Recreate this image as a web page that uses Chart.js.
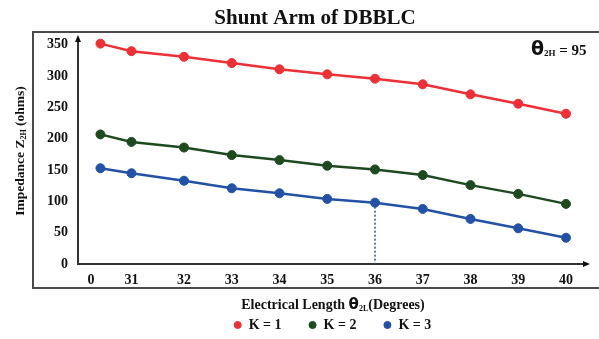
<!DOCTYPE html>
<html>
<head>
<meta charset="utf-8">
<script src="https://cdn.jsdelivr.net/npm/chart.js@4.4.0/dist/chart.umd.min.js"></script>
<style>
    html, body { margin: 0; padding: 0; background: #fff; }
    #wrap { width: 599px; height: 339px; }
</style>
</head>
<body>
<div id="wrap"><canvas id="chartShunt"></canvas></div>
<script>
// electrical length (degrees) and impedance values for each K
const lengths = [30.25, 30.9, 32, 33, 34, 35, 36, 37, 38, 39, 40];
const zK1 = [352, 340, 331, 321, 311, 303, 296, 287, 271, 256, 240];
const zK2 = [207, 195, 186, 174, 166, 157, 151, 142, 126, 112, 96];
const zK3 = [153, 145, 133, 121, 113, 104, 98, 88, 72, 57, 42];
const xTickVals = [30.05, 30.9, 32, 33, 34, 35, 36, 37, 38, 39, 40];
const xTickLabels = ['0', '31', '32', '33', '34', '35', '36', '37', '38', '39', '40'];
const yTicks = [0, 50, 100, 150, 200, 250, 300, 350];
const markAt = 36;

const serif = "'Liberation Serif', 'Times New Roman', serif";
const sans = "'DejaVu Sans', sans-serif";

function pts(ys) {
    return lengths.map((x, i) => ({ x: x, y: ys[i] }));
}

// draws a line of text made of runs (normal / subscript)
function drawRuns(ctx, runs, x, y, align) {
    let total = 0;
    runs.forEach(r => { ctx.font = r.font; total += ctx.measureText(r.text).width; });
    let cx = align === 'center' ? x - total / 2 : x;
    ctx.textAlign = 'left';
    ctx.textBaseline = 'alphabetic';
    runs.forEach(r => {
        ctx.font = r.font;
        ctx.fillText(r.text, cx, y + (r.dy || 0));
        cx += ctx.measureText(r.text).width;
    });
}

const decor = {
    id: 'decor',
    beforeDraw(chart) {
        const ctx = chart.ctx;
        ctx.save();
        ctx.strokeStyle = '#4a4a4a';
        ctx.lineWidth = 2;
        ctx.beginPath();
        ctx.moveTo(599, 32);
        ctx.lineTo(33, 32);
        ctx.lineTo(33, 288);
        ctx.lineTo(599, 288);
        ctx.stroke();
        ctx.restore();
    },
    afterDraw(chart) {
        const ctx = chart.ctx;
        const a = chart.chartArea;
        ctx.save();
        ctx.fillStyle = '#111';

        // axis arrows
        ctx.beginPath();
        ctx.moveTo(a.left, a.top - 3);
        ctx.lineTo(a.left - 3, a.top + 4);
        ctx.lineTo(a.left + 3, a.top + 4);
        ctx.closePath();
        ctx.fill();
        ctx.beginPath();
        ctx.moveTo(a.right + 3, a.bottom);
        ctx.lineTo(a.right - 4, a.bottom - 3);
        ctx.lineTo(a.right - 4, a.bottom + 3);
        ctx.closePath();
        ctx.fill();

        // title
        ctx.font = 'bold 21px ' + serif;
        ctx.textAlign = 'center';
        ctx.textBaseline = 'alphabetic';
        ctx.fillText('Shunt Arm of DBBLC', 315, 24);

        // theta label
        drawRuns(ctx, [
            { text: 'θ', font: 'bold 19px ' + sans },
            { text: '2H', font: 'bold 9px ' + serif, dy: 1 },
            { text: ' = 95', font: 'bold 15px ' + serif }
        ], 531, 55, 'left');

        // x axis title
        drawRuns(ctx, [
            { text: 'Electrical Length ', font: 'bold 14px ' + serif },
            { text: 'θ', font: 'bold 15px ' + sans },
            { text: '2L', font: 'bold 8px ' + serif, dy: 2 },
            { text: '(Degrees)', font: 'bold 14px ' + serif }
        ], 333, 309, 'center');

        // y axis title
        ctx.translate(24, 151);
        ctx.rotate(-Math.PI / 2);
        drawRuns(ctx, [
            { text: 'Impedance Z', font: 'bold 13.5px ' + serif },
            { text: '2H', font: 'bold 8px ' + serif, dy: 2 },
            { text: ' (ohms)', font: 'bold 13.5px ' + serif }
        ], 0, 0, 'center');
        ctx.restore();
    }
};

function lineSet(label, data, color) {
    return {
        label: label,
        data: pts(data),
        borderColor: color,
        backgroundColor: color,
        borderWidth: 2.5,
        pointRadius: 4.5,
        pointBorderWidth: 1,
        pointHoverRadius: 4.5,
        tension: 0
    };
}

const markIdx = lengths.indexOf(markAt);

const config = {
    type: 'line',
    data: {
        datasets: [
            lineSet('K = 1', zK1, '#ec3036'),
            lineSet('K = 2', zK2, '#1d4a1f'),
            lineSet('K = 3', zK3, '#2251a6'),
            {
                label: 'mark',
                data: [{ x: markAt, y: zK3[markIdx] }, { x: markAt, y: 0 }],
                borderColor: '#2251a6',
                borderWidth: 1.5,
                borderDash: [2, 2],
                pointRadius: 0
            }
        ]
    },
    options: {
        responsive: true,
        maintainAspectRatio: false,
        animation: false,
        layout: { padding: { top: 38, right: 12, left: 0, bottom: -3 } },
        scales: {
            x: {
                type: 'linear',
                min: 29.78,
                max: 40.44,
                grid: { display: false, drawTicks: false },
                border: { color: '#333', width: 2 },
                afterBuildTicks: scale => { scale.ticks = xTickVals.map(v => ({ value: v })); },
                afterFit: scale => { scale.height = 27; },
                ticks: {
                    padding: 8,
                    color: '#111',
                    font: { family: serif, size: 14, weight: 'bold' },
                    callback: (v, i) => xTickLabels[i]
                }
            },
            y: {
                min: 0,
                max: 361,
                grid: { display: false, drawTicks: false },
                border: { color: '#333', width: 2 },
                afterBuildTicks: scale => { scale.ticks = yTicks.map(v => ({ value: v })); },
                afterFit: scale => { scale.width = 78; },
                ticks: {
                    padding: 10,
                    color: '#111',
                    font: { family: serif, size: 14, weight: 'bold' }
                }
            }
        },
        plugins: {
            legend: {
                position: 'bottom',
                fullSize: false,
                labels: {
                    usePointStyle: true,
                    pointStyle: 'circle',
                    boxWidth: 8,
                    boxHeight: 5,
                    padding: 27,
                    color: '#111',
                    font: { family: serif, size: 14, weight: 'bold' },
                    filter: item => item.text !== 'mark'
                }
            },
            tooltip: { enabled: false }
        }
    },
    plugins: [decor]
};

const myChartShunt = new Chart(document.getElementById('chartShunt'), config);
</script>
</body>
</html>
